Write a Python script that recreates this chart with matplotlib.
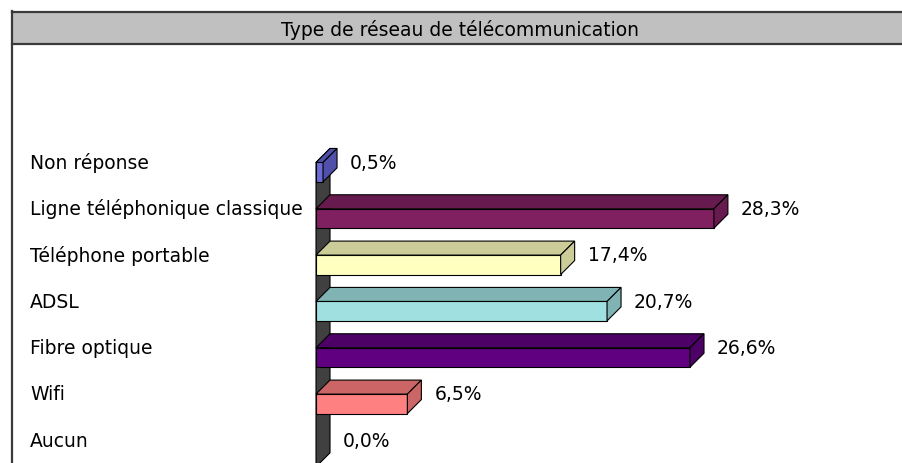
import matplotlib
matplotlib.use("Agg")
import matplotlib.pyplot as plt
from matplotlib.patches import Polygon, Rectangle
from matplotlib.transforms import IdentityTransform


TITLE = "Type de réseau de télécommunication"
categories = [
    "Non réponse",
    "Ligne téléphonique classique",
    "Téléphone portable",
    "ADSL",
    "Fibre optique",
    "Wifi",
    "Aucun",
]
values = [0.5, 28.3, 17.4, 20.7, 26.6, 6.5, 0.0]
front_colors = ["#6B6BD6", "#802060", "#FFFFC0", "#A0E0E0", "#600080", "#FF8080", "#9999FF"]
shade_colors = ["#5050AA", "#661A4D", "#CCCC99", "#80B3B3", "#4D0066", "#CC6666", "#7A7ACC"]

W, H, DPI = 902, 464, 100
DEPTH = 14          # 3D depth offset, pixels
BAR_H = 0.42        # bar thickness, category units
PX_PER_UNIT = 14.06
PX_PER_CAT = 46.33
FONT = dict(family="DejaVu Sans", size=13.5, color="black")

fig = plt.figure(figsize=(W / DPI, H / DPI), dpi=DPI)

# frame: grey title band + borders, in image pixel coordinates
frame = fig.add_axes([0, 0, 1, 1])
frame.set_xlim(0, W)
frame.set_ylim(H, 0)
frame.axis("off")
frame.add_patch(Rectangle((12, 13), W, 32, facecolor="#C0C0C0", edgecolor="none"))
frame.plot([12, W], [13, 13], color="#3A3A3A", lw=1.6)
frame.plot([12, W], [45, 45], color="#3A3A3A", lw=1.6)
frame.plot([12, 12], [12, H], color="#3A3A3A", lw=1.6)
frame.text(460, 30, TITLE, ha="center", va="center", **FONT)

# data axes
left, top, height = 316, 150, 314
width = 40 * PX_PER_UNIT
ax = fig.add_axes([left / W, 1 - (top + height) / H, width / W, height / H])
ax.set_xlim(0, 40)
ax.set_ylim(-0.5 + height / PX_PER_CAT, -0.5)
ax.axis("off")

ypos = list(range(len(categories)))


def disp(x, y):
    return ax.transData.transform((x, y))


# left wall, behind the bars
wf_top = disp(0, -BAR_H / 2)
wf_bot = disp(0, 6.36)
wall = [
    (wf_top[0], wf_top[1]),
    (wf_top[0] + DEPTH, wf_top[1] + DEPTH),
    (wf_bot[0] + DEPTH, wf_bot[1] + DEPTH),
    (wf_bot[0], wf_bot[1]),
]
ax.add_patch(Polygon(wall, closed=True, facecolor="#404040", edgecolor="black",
                     lw=0.8, transform=IdentityTransform(), clip_on=False, zorder=1))

# bars: front faces through barh, top and side faces from the same values
for y, v, fc, sc in zip(ypos, values, front_colors, shade_colors):
    if v <= 0:
        continue
    ax.barh(y, v, height=BAR_H, color=fc, edgecolor="black", lw=0.8, zorder=3)
    x0, yt = disp(0, y - BAR_H / 2)
    x1, yb = disp(v, y + BAR_H / 2)
    top_face = [(x0, yt), (x1, yt), (x1 + DEPTH, yt + DEPTH), (x0 + DEPTH, yt + DEPTH)]
    side_face = [(x1, yt), (x1, yb), (x1 + DEPTH, yb + DEPTH), (x1 + DEPTH, yt + DEPTH)]
    for pts in (top_face, side_face):
        ax.add_patch(Polygon(pts, closed=True, facecolor=sc, edgecolor="black", lw=0.8,
                             transform=IdentityTransform(), clip_on=False, zorder=3))

# category and value labels
for y, v, name in zip(ypos, values, categories):
    xv, yd = disp(v, y)
    img_y = H - yd - 10
    frame.text(30, img_y, name, ha="left", va="center", **FONT)
    frame.text(xv + 27, img_y, f"{v:.1f}%".replace(".", ","), ha="left", va="center", **FONT)

fig.savefig("out.png", dpi=DPI)
